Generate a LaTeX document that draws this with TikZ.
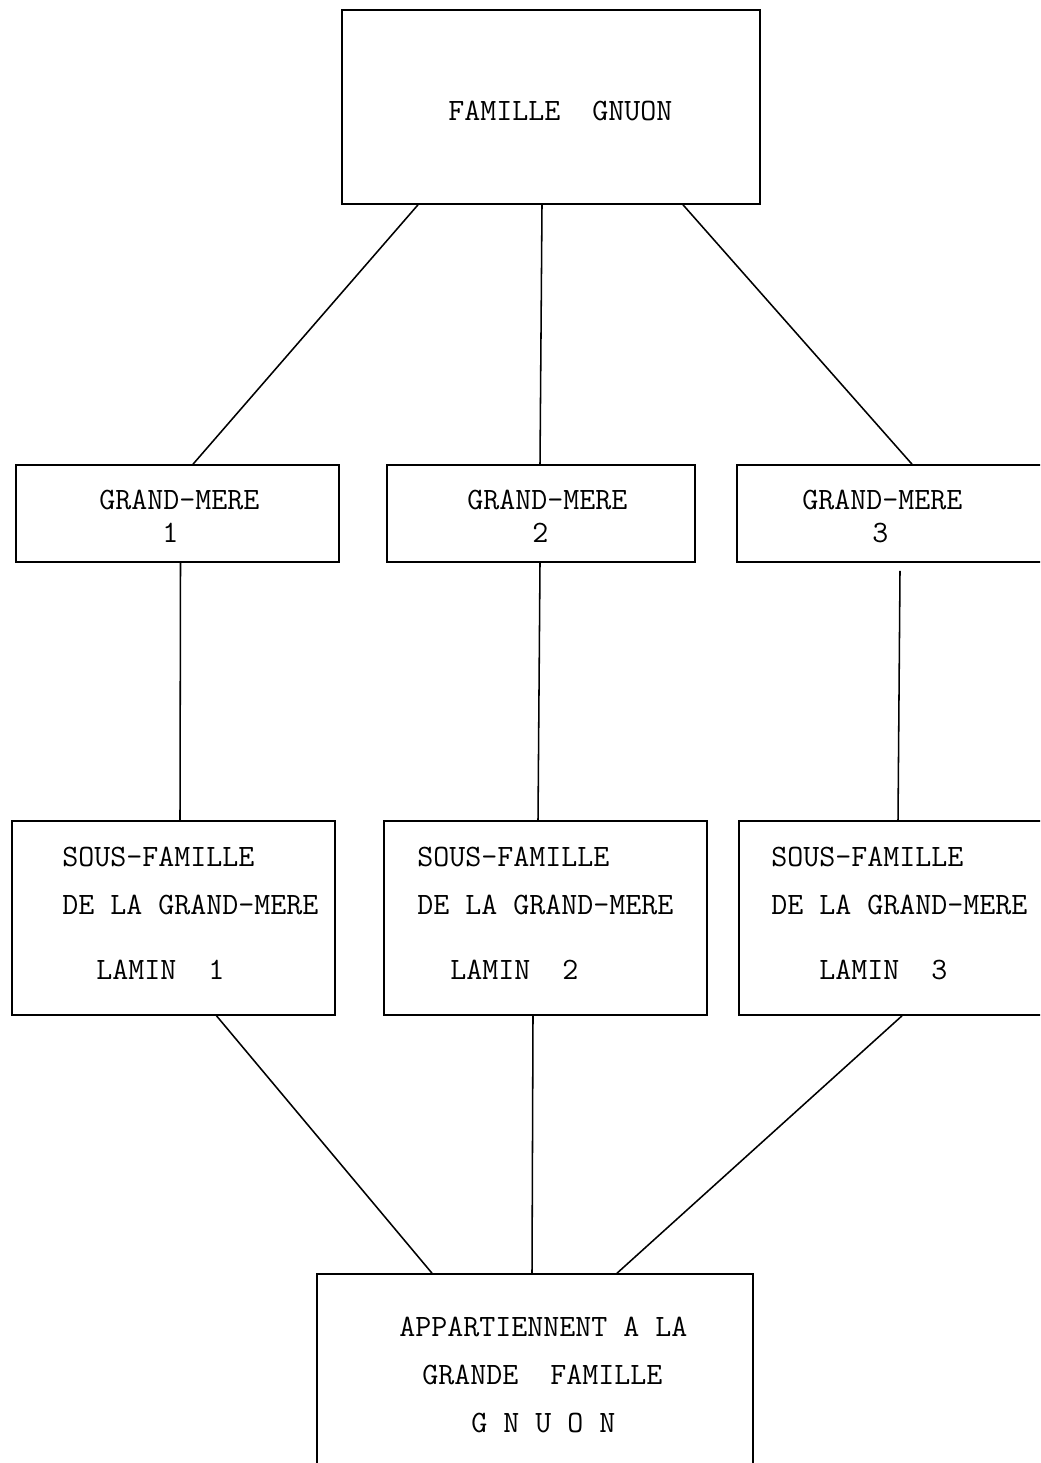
\documentclass[tikz,border=0pt]{standalone}
\usepackage{fontspec}
\usetikzlibrary{calc}
\begin{document}
\begin{tikzpicture}[x=0.025cm,y=-0.025cm,
  box/.style={draw, line width=1.1pt, inner sep=0pt},
  lbl/.style={anchor=base west, inner sep=0pt, font=\ttfamily\fontsize{22.1}{26}\selectfont},
  link/.style={line width=1.1pt}]
\clip (0,0) rectangle (1040,1463);
\fill[white] (0,0) rectangle (1040,1463);
% boxes
\node[box, minimum width=10.45cm, minimum height=4.85cm] (top) at (551,107) {};
\node[box, minimum width=8.075cm, minimum height=2.425cm] (gm1) at (177.5,513.5) {};
\node[box, minimum width=7.7cm, minimum height=2.425cm] (gm2) at (541,513.5) {};
\node[box, minimum width=8.075cm, minimum height=2.425cm] (gm3) at (898.5,513.5) {};
\node[box, minimum width=8.075cm, minimum height=4.85cm] (sf1) at (173.5,918) {};
\node[box, minimum width=8.075cm, minimum height=4.85cm] (sf2) at (545.5,918) {};
\node[box, minimum width=8.075cm, minimum height=4.85cm] (sf3) at (900.5,918) {};
\node[box, minimum width=10.9cm, minimum height=5.15cm] (bot) at (535,1377) {};
% texts
\node[lbl] (ttop) at (448,121) {FAMILLE\ \ GNUON};
\node[lbl] (tg1a) at (99,509) {GRAND-MERE};
\node[lbl] (tg1b) at (162,542) {1};
\node[lbl] (tg2a) at (467,509) {GRAND-MERE};
\node[lbl] (tg2b) at (532,542) {2};
\node[lbl] (tg3a) at (802,509) {GRAND-MERE};
\node[lbl] (tg3b) at (872,542) {3};
\node[lbl] (ts1a) at (62,866) {SOUS-FAMILLE};
\node[lbl] (ts1b) at (62,914) {DE LA GRAND-MERE};
\node[lbl] (ts1c) at (96,979) {LAMIN\ \ 1};
\node[lbl] (ts2a) at (417,866) {SOUS-FAMILLE};
\node[lbl] (ts2b) at (417,914) {DE LA GRAND-MERE};
\node[lbl] (ts2c) at (450,979) {LAMIN\ \ 2};
\node[lbl] (ts3a) at (771,866) {SOUS-FAMILLE};
\node[lbl] (ts3b) at (771,914) {DE LA GRAND-MERE};
\node[lbl] (ts3c) at (819,979) {LAMIN\ \ 3};
\node[lbl] (tba) at (399,1336) {APPARTIENNENT A LA};
\node[lbl] (tbb) at (422,1384) {GRANDE\ \ FAMILLE};
\node[lbl] (tbc) at (471,1432) {G N U O N};
% connectors
\draw[link] ($(top.south)+(-133,0)$) -- ($(gm1.north)+(15.5,0)$);
\draw[link] ($(top.south)+(-9,0)$) -- ($(gm2.north)+(-1,0)$);
\draw[link] ($(top.south)+(132,0)$) -- ($(gm3.north)+(13.5,0)$);
\draw[link] ($(gm1.south)+(3,0)$) -- ($(sf1.north)+(6.5,0)$);
\draw[link] ($(gm2.south)+(-1,0)$) -- ($(sf2.north)+(-7.5,0)$);
\draw[link] ($(gm3.south)+(1.5,8)$) -- ($(sf3.north)+(-2.5,0)$);
\draw[link] ($(sf1.south)+(43,0)$) -- ($(bot.north)+(-103,0)$);
\draw[link] ($(sf2.south)+(-12.5,0)$) -- ($(bot.north)+(-3,0)$);
\draw[link] ($(sf3.south)+(1.5,0)$) -- ($(bot.north)+(82,0)$);
\end{tikzpicture}
\end{document}
